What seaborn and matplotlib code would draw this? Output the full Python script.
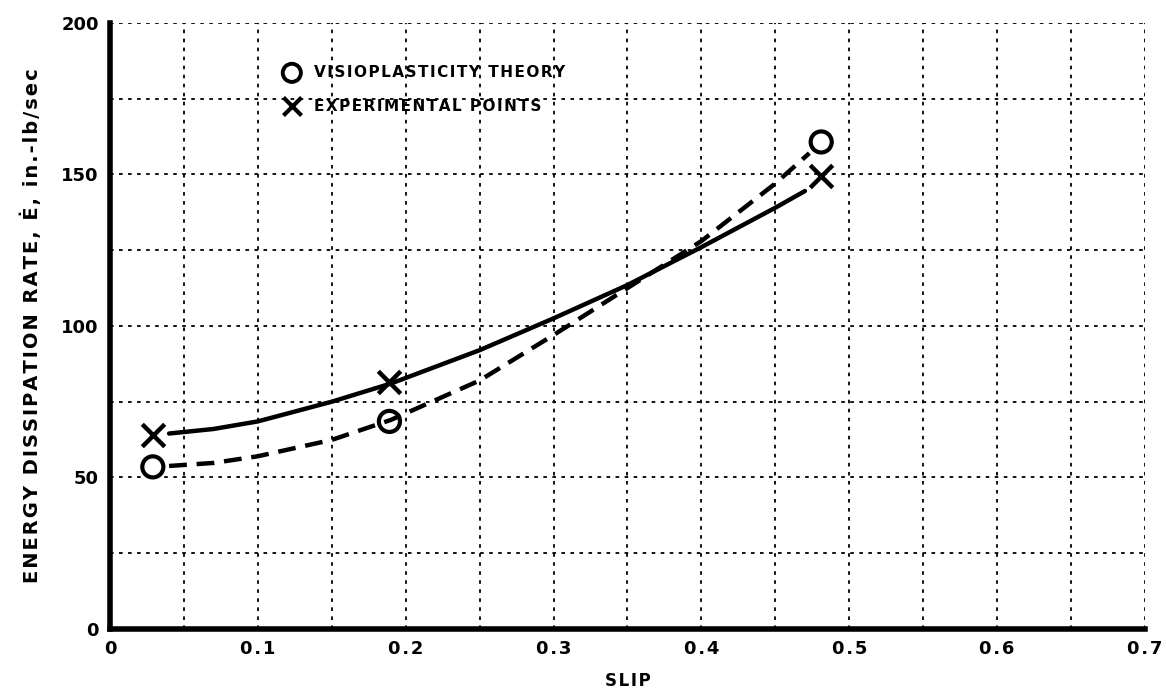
import numpy as np
import pandas as pd
import matplotlib
matplotlib.use('Agg')
import matplotlib.pyplot as plt
import seaborn as sns

# Pontos marcados
slip_pts = [0.029, 0.189, 0.481]
theory_pts = [53.5, 68.5, 160.7]
exper_pts = [64, 81.5, 149.5]

# Curvas
curve_slip = [0.04, 0.07, 0.10, 0.15, 0.19, 0.25, 0.30, 0.35, 0.40, 0.45, 0.47]
exper_curve = [64.5, 66, 68.5, 75, 81, 92, 102.5, 113.5, 126, 139, 144.5]
dashed_slip = [0.04, 0.07, 0.10, 0.15, 0.19, 0.25, 0.30, 0.35, 0.40, 0.45, 0.473]
theory_curve = [53.8, 54.8, 57, 62.4, 69, 82, 97, 112.5, 128, 147, 157]

sns.set_style('white')
plt.rcParams['font.family'] = ['DejaVu Sans']
plt.rcParams['text.color'] = 'black'
plt.rcParams['axes.labelcolor'] = 'black'
plt.rcParams['xtick.color'] = 'black'
plt.rcParams['ytick.color'] = 'black'


def espacar(txt):
    # espaco fino entre letras, como na figura original
    return '\u200a'.join(txt)


fig = plt.figure(figsize=(11.66, 6.92), dpi=100)
ax = fig.add_axes([0.0943, 0.091, 0.8877, 0.876])

df_exp = pd.DataFrame({'slip': curve_slip, 'E': exper_curve})
df_th = pd.DataFrame({'slip': dashed_slip, 'E': theory_curve})
sns.lineplot(data=df_exp, x='slip', y='E', ax=ax, color='black', lw=3.2, sort=True)
sns.lineplot(data=df_th, x='slip', y='E', ax=ax, color='black', lw=3.2, sort=True,
             linestyle=(0, (4, 2.2)))

pts = pd.DataFrame({'slip': slip_pts, 'theory': theory_pts, 'exper': exper_pts})
ax.scatter(pts['slip'], pts['theory'], s=230, facecolors='none', edgecolors='black',
           linewidths=3, zorder=5)
ax.scatter(pts['slip'], pts['exper'], s=260, marker='x', color='black',
           linewidths=3.2, zorder=5)

ax.set_xlim(0, 0.7)
ax.set_ylim(0, 200)
ax.set_xticks(np.arange(0, 0.71, 0.05), minor=True)
ax.set_yticks(np.arange(0, 201, 25), minor=True)
ax.set_xticks([0, 0.1, 0.2, 0.3, 0.4, 0.5, 0.6, 0.7])
ax.set_xticklabels([espacar(t) for t in ['0', '0.1', '0.2', '0.3', '0.4', '0.5', '0.6', '0.7']])
ax.set_yticks([0, 50, 100, 150, 200])
ax.grid(which='both', color='black', linestyle=(0, (2, 3)), linewidth=1.3)
ax.tick_params(which='both', length=0, labelsize=13, pad=8)
for lbl in ax.get_xticklabels() + ax.get_yticklabels():
    lbl.set_fontweight('bold')

for s in ['top', 'right']:
    ax.spines[s].set_visible(False)
ax.spines['left'].set_linewidth(4)
ax.spines['bottom'].set_linewidth(4)
ax.spines['left'].set_color('black')
ax.spines['bottom'].set_color('black')

ax.set_xlabel(espacar('SLIP'), fontsize=12, fontweight='bold', labelpad=10)
ax.set_ylabel(espacar('ENERGY DISSIPATION RATE, Ė, in.-lb/sec'), fontsize=14,
              fontweight='bold', labelpad=14)

# Legenda
ax.scatter([0.123], [183.5], s=170, facecolors='none', edgecolors='black', linewidths=2.8)
ax.scatter([0.123], [172.5], s=170, marker='x', color='black', linewidths=3)
ax.text(0.138, 183.5, espacar('VISIOPLASTICITY THEORY'), fontsize=11, fontweight='bold', va='center')
ax.text(0.138, 172.5, espacar('EXPERIMENTAL POINTS'), fontsize=11, fontweight='bold', va='center')

fig.savefig('out.png', dpi=100, facecolor='white')
